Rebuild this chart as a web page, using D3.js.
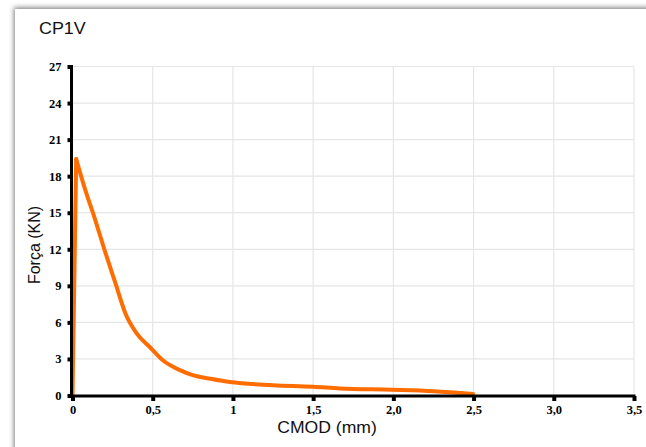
<!DOCTYPE html>
<html>
<head>
<meta charset="utf-8">
<script src="https://cdn.jsdelivr.net/npm/d3@7"></script>
<style>
  html, body { margin: 0; padding: 0; background: #ffffff; }
  svg { display: block; }
</style>
</head>
<body>
<script>
// ---- data ----
const cmod  = [0, 0.023, 0.08, 0.137, 0.202, 0.268, 0.328, 0.40, 0.48, 0.567, 0.666, 0.754, 0.85, 0.982, 1.25, 1.5, 1.667, 1.99, 2.25, 2.497];
const forca = [0, 19.4, 16.85, 14.6, 11.85, 9.2, 6.8, 5.1, 4.0, 2.85, 2.1, 1.65, 1.4, 1.1, 0.85, 0.72, 0.58, 0.47, 0.35, 0.12];
const xTickValues = [0, 0.5, 1, 1.5, 2, 2.5, 3, 3.5];
const xTickLabels = ["0", "0,5", "1", "1,5", "2,0", "2,5", "3,0", "3,5"];
const yTickValues = [0, 3, 6, 9, 12, 15, 18, 21, 24, 27];
const yTickLabels = ["0", "3", "6", "9", "12", "15", "18", "21", "24", "27"];
const title = "CP1V";
const xTitle = "CMOD (mm)";
const yTitle = "Força (KN)";

const W = 646, H = 447;
const svg = d3.select("body").append("svg").attr("width", W).attr("height", H);

// shadow filter for the panel
const defs = svg.append("defs");
const f = defs.append("filter").attr("id", "sh").attr("x", "-10%").attr("y", "-10%").attr("width", "130%").attr("height", "130%");
f.append("feDropShadow").attr("dx", -1).attr("dy", -1.5).attr("stdDeviation", 2.8).attr("flood-color", "#000").attr("flood-opacity", 0.5);

svg.append("rect").attr("x", 15).attr("y", 9).attr("width", 720).attr("height", 520)
  .attr("fill", "#fff").attr("filter", "url(#sh)");

const x = d3.scaleLinear().domain([0, 3.5]).range([72.5, 634]);
const y = d3.scaleLinear().domain([0, 27]).range([395.5, 66.5]);

// grid
const g = svg.append("g");
g.selectAll("line.v").data(xTickValues.slice(1)).enter().append("line")
  .attr("x1", d => x(d)).attr("x2", d => x(d)).attr("y1", y(27)).attr("y2", y(0))
  .attr("stroke", "#e6e6e6").attr("stroke-width", 1.2);
g.selectAll("line.h").data(yTickValues.slice(1)).enter().append("line")
  .attr("x1", x(0)).attr("x2", x(3.5)).attr("y1", d => y(d)).attr("y2", d => y(d))
  .attr("stroke", "#e6e6e6").attr("stroke-width", 1.2);

// curve: straight loading branch up to the peak, smooth softening branch after it
const pts = cmod.map((c, i) => [c, forca[i]]);
const peak = d3.maxIndex(forca);
const lineLin = d3.line().x(d => x(d[0])).y(d => y(d[1]));
const lineSmooth = d3.line().x(d => x(d[0])).y(d => y(d[1])).curve(d3.curveMonotoneX);
const curve = svg.append("g").attr("fill", "none").attr("stroke", "#ff6d00").attr("stroke-width", 4)
  .attr("stroke-linejoin", "round").attr("stroke-linecap", "round");
curve.append("path").attr("d", lineLin(pts.slice(0, peak + 1)));
curve.append("path").attr("d", lineSmooth(pts.slice(peak)));

// axes
const xAxis = svg.append("g").attr("transform", "translate(0,396)")
  .call(d3.axisBottom(x).tickValues(xTickValues).tickFormat((d, i) => xTickLabels[i]).tickSize(5).tickPadding(4).tickSizeOuter(0));
const yAxis = svg.append("g").attr("transform", "translate(71.5,0)")
  .call(d3.axisLeft(y).tickValues(yTickValues).tickFormat((d, i) => yTickLabels[i]).tickSize(4).tickPadding(6).tickSizeOuter(0));

[xAxis, yAxis].forEach(a => {
  a.attr("font-family", null);
  a.select(".domain").attr("stroke", "#000").attr("stroke-width", 3);
  a.selectAll(".tick line").attr("stroke", "#000").attr("stroke-width", 4);
  a.selectAll(".tick text").attr("fill", "#000")
    .style("font-family", "'Liberation Serif', 'DejaVu Serif', serif")
    .style("font-weight", "bold").style("font-size", "12.5px");
});
xAxis.select(".domain").attr("d", `M${x(0) - 1.5},0H${x(3.5) + 1.5}`);
yAxis.select(".domain").attr("d", `M0,${y(27) - 1.5}V${y(0) + 2}`);

// titles
const sans = "'Liberation Sans', Arial, sans-serif";
svg.append("text").attr("transform", "translate(39,34) scale(1.12,1)").text(title)
  .style("font-family", sans).style("font-size", "16px").attr("fill", "#111");
svg.append("text").attr("transform", "translate(327,433) scale(1.1,1)").attr("text-anchor", "middle").text(xTitle)
  .style("font-family", sans).style("font-size", "16px").attr("fill", "#111");
svg.append("text").attr("transform", "translate(40,245) rotate(-90)").attr("text-anchor", "middle").text(yTitle)
  .style("font-family", sans).style("font-size", "16px").attr("fill", "#111");
</script>
</body>
</html>
